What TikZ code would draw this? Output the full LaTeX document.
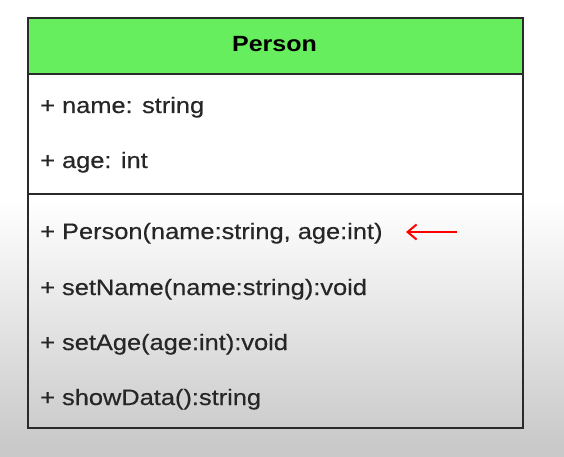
\documentclass[tikz,border=0pt]{standalone}
\usepackage{fontspec}
\setmainfont{Liberation Sans}
\usetikzlibrary{arrows.meta}
\definecolor{hdrgreen}{HTML}{66EE5E}
\definecolor{bggray}{HTML}{C9C9C9}
\definecolor{edge}{HTML}{2A2A2A}
\newcommand{\vsq}[1]{\scalebox{1}[0.88]{#1}}
\tikzset{
  compart/.style={draw=edge, line width=2pt, rectangle, minimum width=495pt, inner sep=0pt, anchor=north west},
  member/.style={anchor=base west, inner sep=0pt, font=\fontsize{25.4}{30}\selectfont\addfontfeature{FakeBold=0.4}, text=black!85},
  title/.style={anchor=base, inner sep=0pt, font=\fontsize{25}{30}\selectfont\bfseries, text=black},
  redarrow/.style={draw=red, line width=2pt, -{Straight Barb[length=9pt,width=15pt,line width=2pt]}}
}
\begin{document}
\begin{tikzpicture}[x=1pt,y=-1pt]
\useasboundingbox (0,0) rectangle (564,457);
\fill[white] (0,0) rectangle (564,457);
\shade[top color=white, bottom color=bggray] (0,200) rectangle (564,445);
\fill[bggray] (0,444.5) rectangle (564,457);
% compartments
\node[compart, fill=hdrgreen, minimum height=55.5pt] (hdr) at (27,17.5) {};
\node[compart, minimum height=120pt] (attrs) at (27,73) {};
\node[compart, minimum height=233.5pt] (meths) at (27,193) {};
% texts
\node[title] (cname) at (274.5,52) {\vsq{Person}};
\node[member] (aname) at (40,113) {\vsq{+ name: string}};
\node[member] (aage) at (40,168) {\vsq{+ age: int}};
\node[member] (ctor) at (40,239) {\vsq{+ Person(name:string, age:int)}};
\node[member] (msetname) at (40,295) {\vsq{+ setName(name:string):void}};
\node[member] (msetage) at (40,350) {\vsq{+ setAge(age:int):void}};
\node[member] (mshow) at (40,405) {\vsq{+ showData():string}};
% red arrow
\coordinate (tail) at (457,232);
\coordinate (head) at (406,232);
\draw[redarrow] (tail) -- (head);
\end{tikzpicture}
\end{document}
